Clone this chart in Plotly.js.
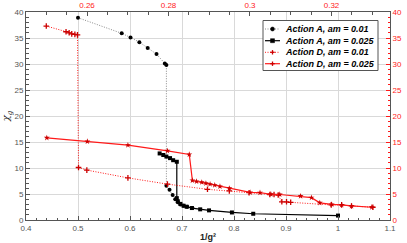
<!DOCTYPE html>
<html><head><meta charset="utf-8">
<script src="https://cdn.plot.ly/plotly-3.0.1.min.js"></script>
<style>html,body{margin:0;padding:0;background:#fff}#c{width:407px;height:243px}</style>
</head><body><div id="c"></div>
<script>
// Action A, am = 0.01 (dotted)
const a1X = [0.500,0.584,0.601,0.618,0.634,0.651,0.667,0.670,0.670,0.676,0.682,0.687,0.692,0.697,0.703,0.710,0.720];
const a1Y = [38.9,35.9,35.1,34.2,33.1,31.9,30.1,29.8,6.6,5.8,4.8,4.0,3.4,3.0,2.75,2.55,2.3];
// Action A, am = 0.025 (solid)
const a2X = [0.657,0.664,0.670,0.677,0.683,0.690,0.690,0.692,0.697,0.703,0.709,0.719,0.735,0.752,0.796,0.837,1.000];
const a2Y = [12.8,12.5,12.2,11.9,11.5,11.2,4.2,3.6,3.1,2.75,2.55,2.3,2.05,1.85,1.45,1.2,0.85];
// Action D, am = 0.01 (dotted)
const d1X = [0.439,0.477,0.483,0.488,0.494,0.499,0.501,0.517,0.596,0.672,0.749,0.791,0.829,0.869,0.877,0.885,0.892,0.901,0.909,0.987,1.007,1.026,1.067];
const d1Y = [37.3,36.2,36.0,35.8,35.7,35.6,10.1,9.6,8.1,6.9,5.9,5.6,5.25,4.9,4.9,4.8,3.5,3.5,3.4,2.9,2.9,2.7,2.45];
// Action D, am = 0.025 (solid)
const d2X = [0.440,0.518,0.596,0.672,0.714,0.720,0.728,0.738,0.746,0.754,0.763,0.773,0.791,0.831,0.850,0.871,0.888,0.928,0.949,0.965,0.988,1.007,1.026,1.065];
const d2Y = [15.8,15.1,14.4,13.3,12.6,7.6,7.4,7.25,7.05,6.9,6.7,6.45,6.1,5.3,5.25,4.95,4.9,4.6,4.3,3.3,3.0,2.9,2.7,2.45];

const legendNames = ['Action A, am = 0.01','Action A, am = 0.025','Action D, am = 0.01','Action D, am = 0.025'];
const topTickVals = [0.26,0.28,0.30,0.32];
const topTickText = ['0.26','0.28','0.3','0.32'];

const RED = '#ff1a1a';
const DRED = '#cc0000';
const styles = [
  {line:{color:'#8a8a8a', width:1, dash:'1px,1.5px'}, marker:{symbol:'circle', size:4, color:'#000'}},
  {line:{color:'#000', width:1.2}, marker:{symbol:'square', size:4, color:'#000'}},
  {line:{color:RED, width:1, dash:'1px,1.5px'}, marker:{symbol:'cross-thin', size:4, color:DRED, line:{color:DRED, width:1.3}}},
  {line:{color:RED, width:1.2}, marker:{symbol:'star', size:4.5, color:DRED}}
];
const series = [[a1X,a1Y,'y'],[a2X,a2Y,'y'],[d1X,d1Y,'y2'],[d2X,d2Y,'y2']];
const traces = series.map((s,i)=>({x:s[0], y:s[1], yaxis:s[2], name:legendNames[i], mode:'lines+markers',
  line:styles[i].line, marker:styles[i].marker, showlegend:false}));
traces.push({x:[], y:[], xaxis:'x2', yaxis:'y', showlegend:false, hoverinfo:'skip', mode:'none'});

// custom compact legend (pixel layout -> paper coords)
const L=26, R=390, T=12, B=220;
const px = v => (v-L)/(R-L);
const py = v => (B-v)/(B-T);
const shapes = [{type:'rect', xref:'paper', yref:'paper', x0:px(263), x1:px(378), y0:py(70.5), y1:py(20.5),
  fillcolor:'#fff', line:{color:'#555', width:1}, layer:'above'}];
const annotations = [];
const rowY = [29, 40.7, 52.3, 63.7];
rowY.forEach((yy,i)=>{
  const st = styles[i];
  shapes.push({type:'line', xref:'paper', yref:'paper', x0:px(265), x1:px(280), y0:py(yy), y1:py(yy),
    line:{color:st.line.color, width:st.line.width, dash:st.line.dash||'solid'}, layer:'above'});
  const cx=272.5, r=2;
  if(i===0) shapes.push({type:'circle', xref:'paper', yref:'paper', x0:px(cx-r), x1:px(cx+r), y0:py(yy+r), y1:py(yy-r), fillcolor:'#000', line:{color:'#000', width:0.5}, layer:'above'});
  if(i===1) shapes.push({type:'rect', xref:'paper', yref:'paper', x0:px(cx-r), x1:px(cx+r), y0:py(yy+r), y1:py(yy-r), fillcolor:'#000', line:{color:'#000', width:0.5}, layer:'above'});
  if(i>=2){
    shapes.push({type:'line', xref:'paper', yref:'paper', x0:px(cx-2.2), x1:px(cx+2.2), y0:py(yy), y1:py(yy), line:{color:DRED, width:1.3}, layer:'above'});
    shapes.push({type:'line', xref:'paper', yref:'paper', x0:px(cx), x1:px(cx), y0:py(yy+2.2), y1:py(yy-2.2), line:{color:DRED, width:1.3}, layer:'above'});
  }
  annotations.push({xref:'paper', yref:'paper', x:px(283), y:py(yy), xanchor:'left', yanchor:'middle', showarrow:false,
    text:'<b><i>'+legendNames[i]+'</i></b>', font:{family:'Liberation Sans, Arial, sans-serif', size:9, color:'#000'}});
});

const tickFont = {family:'Liberation Sans, Arial, sans-serif', size:8, color:'#555'};
const redFont = {family:'Liberation Sans, Arial, sans-serif', size:8, color:RED};

const layout = {
  width:407, height:243,
  margin:{l:26, r:17, t:12, b:23},
  paper_bgcolor:'#fff', plot_bgcolor:'#fff',
  showlegend:false, shapes, annotations,
  xaxis:{range:[0.4,1.1], dtick:0.1, tick0:0, ticks:'inside', ticklen:4, tickcolor:'#555', tickfont:tickFont,
    showgrid:true, gridcolor:'#d9d9d9', gridwidth:1, zeroline:false, showline:true, linecolor:'#555', linewidth:1,
    minor:{dtick:0.02, ticks:'inside', ticklen:2.5, tickcolor:'#555', showgrid:false},
    title:{text:'<b>1/g²</b>', font:{family:'Liberation Sans, Arial, sans-serif', size:9, color:'#222'}, standoff:2}},
  xaxis2:{overlaying:'x', side:'top', anchor:'y', range:[0.24503,0.33436], tickvals:topTickVals, ticktext:topTickText,
    ticks:'inside', ticklen:4, tickcolor:'#555', tickfont:redFont, showgrid:false, zeroline:false,
    showline:true, linecolor:'#555', linewidth:1,
    minor:{dtick:0.005, tick0:0.26, ticks:'inside', ticklen:2.5, tickcolor:'#555', showgrid:false}},
  yaxis:{range:[0,40], dtick:5, ticks:'inside', ticklen:4, tickcolor:'#555', tickfont:tickFont,
    showgrid:true, gridcolor:'#d9d9d9', gridwidth:1, zeroline:false, showline:true, linecolor:'#555', linewidth:1,
    minor:{dtick:1, ticks:'inside', ticklen:2.5, tickcolor:'#555', showgrid:false},
    title:{text:'<i>χ<sub>g</sub></i>', font:{family:'DejaVu Serif, serif', size:10, color:'#222'}, standoff:2}},
  yaxis2:{overlaying:'y', side:'right', anchor:'x', range:[0,40], dtick:5, ticks:'inside', ticklen:4, tickcolor:RED,
    tickfont:redFont, showgrid:false, zeroline:false, showline:true, linecolor:'#555', linewidth:1,
    minor:{dtick:1, ticks:'inside', ticklen:2.5, tickcolor:RED, showgrid:false}}
};
Plotly.newPlot('c', traces, layout, {staticPlot:true, displayModeBar:false});
</script></body></html>
